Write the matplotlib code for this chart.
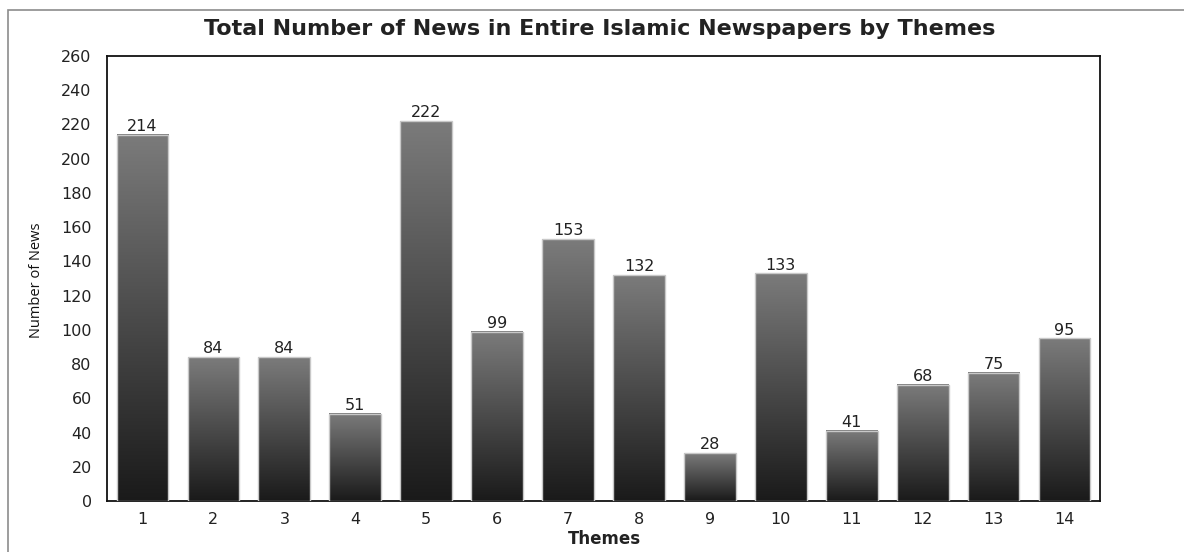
import numpy as np
import matplotlib.pyplot as plt
from matplotlib.patches import Rectangle
from matplotlib.colors import LinearSegmentedColormap

themes = [1, 2, 3, 4, 5, 6, 7, 8, 9, 10, 11, 12, 13, 14]
news_counts = [214, 84, 84, 51, 222, 99, 153, 132, 28, 133, 41, 68, 75, 95]
y_ticks = list(range(0, 261, 20))

plt.rcParams['font.family'] = ['DejaVu Sans']

fig = plt.figure(figsize=(11.84, 5.52), dpi=100)
ax = fig.add_axes([107 / 1184, 1 - 501 / 552, (1100 - 107) / 1184, (501 - 56) / 552])

# outer border of the image
fig.patches.append(Rectangle((7.5 / 1184, -0.1), 1.2, 1 - 10 / 552 + 0.1,
                             transform=fig.transFigure, fill=False,
                             edgecolor='#8c8c8c', linewidth=1.2))

grad = np.linspace(0, 1, 256).reshape(-1, 1)
cmap = LinearSegmentedColormap.from_list('bar', ['#1a1a1a', '#7b7b7b'])
width = 0.73
for x, v in zip(themes, news_counts):
	ax.imshow(grad, extent=(x - width / 2, x + width / 2, 0, v), origin='lower',
	          cmap=cmap, aspect='auto', zorder=2)
	ax.add_patch(Rectangle((x - width / 2, 0), width, v, fill=False,
	                       edgecolor='#c8c8c8', linewidth=1, zorder=3))
	ax.text(x, v + 0.5, str(v), ha='center', va='bottom', fontsize=11.5, color='#222222')

ax.set_xlim(0.5, 14.5)
ax.set_ylim(0, 260)
ax.set_xticks(themes)
ax.set_yticks(y_ticks)
ax.tick_params(length=0, labelsize=11.5, colors='#222222')
ax.tick_params(axis='y', pad=11)
ax.tick_params(axis='x', pad=8)
for s in ax.spines.values():
	s.set_linewidth(1.3)
	s.set_color('#111111')

fig.text(600 / 1184, 1 - 29 / 552, 'Total Number of News in Entire Islamic Newspapers by Themes',
         ha='center', va='center', fontsize=16, fontweight='bold', color='#222222')
fig.text(604 / 1184, 1 - 539 / 552, 'Themes', ha='center', va='center',
         fontsize=12, fontweight='bold', color='#222222')
fig.text(36 / 1184, 1 - 280 / 552, 'Number of News', ha='center', va='center',
         rotation=90, fontsize=10.5, color='#111111', family='Open Sans')

fig.savefig('out.png', dpi=100)
